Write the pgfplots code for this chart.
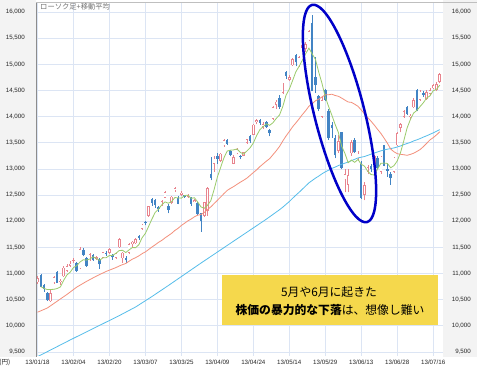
\documentclass[border=0pt]{standalone}
\usepackage{pgfplots}
\usepackage{pgfplotstable}
\pgfplotsset{compat=1.18}
\usepackage{fontspec}
\setmainfont{Liberation Sans}
\newfontfamily\cjk{Noto Sans CJK JP}
\definecolor{gridc}{HTML}{DCE5F4}
\definecolor{panel}{HTML}{F3F3F3}
\definecolor{upc}{HTML}{E8848E}
\definecolor{dnc}{HTML}{4284C4}
\definecolor{maA}{HTML}{9BCB6B}
\definecolor{maB}{HTML}{F3907C}
\definecolor{maC}{HTML}{55BDEA}
\definecolor{boxc}{HTML}{F5D84C}
\definecolor{ellc}{HTML}{0000C8}
\begin{document}
\pgfplotstableread{
i o h l c
0 10830 10950 10800 10913
4 10470 10690 10460 10620
5 10830 10960 10800 10926
7 10840 10900 10780 10866
8 10950 11150 10930 11113
9 11050 11180 11030 11138
10 11150 11230 11120 11191
11 11240 11300 11200 11260
13 11100 11500 11090 11463
16 11250 11400 11240 11369
18 11280 11340 11260 11307
20 11300 11420 11290 11407
22 11400 11480 11380 11468
24 11300 11400 11280 11385
25 11500 11680 11490 11662
26 11290 11420 11200 11398
28 11400 11580 11380 11559
29 11560 11620 11500 11606
30 11580 11680 11570 11652
32 11850 11950 11840 11932
34 12100 12300 12090 12283
38 12320 12400 12300 12381
39 12450 12580 12440 12560
41 12350 12480 12320 12468
42 12600 12650 12560 12635
44 12500 12580 12480 12546
46 12470 12520 12450 12493
48 12370 12420 12360 12397
51 12100 12370 12080 12362
52 12200 12650 12100 12634
54 13100 13250 12950 13192
56 13150 13300 13130 13288
57 13450 13570 13420 13549
60 13100 13260 13090 13221
61 13300 13400 13280 13382
63 13250 13330 13240 13316
64 13500 13580 13480 13568
66 13650 13860 13640 13843
67 13900 13950 13850 13926
69 13800 13900 13760 13860
72 13960 14200 13940 14180
73 14220 14320 14150 14285
75 14450 14650 14430 14607
77 14700 14800 14680 14758
78 14980 15120 14960 15096
80 14980 15160 14950 15138
81 15310 15400 15300 15360
82 15300 15420 15240 15381
83 15460 15650 15440 15627
87 14000 14400 13980 14311
92 13340 13650 13300 13534
94 12800 13000 12550 12904
95 12700 13000 12550 12877
96 13300 13550 13250 13514
98 13200 13350 13150 13289
100 12500 12750 12400 12687
101 12950 13080 12900 13033
103 13100 13260 13050 13245
105 12950 13240 12900 13230
109 12950 13230 12930 13214
110 13450 13700 13440 13677
111 13780 13880 13700 13852
112 13990 14120 13980 14099
114 13990 14050 13930 14018
115 14180 14350 14160 14310
117 14320 14510 14300 14473
119 14330 14500 14320 14472
120 14430 14550 14420 14506
121 14540 14620 14520 14599
122 14500 14660 14480 14615
123 14660 14830 14640 14809
}\up
\pgfplotstableread{
i o h l c
1 10980 11000 10740 10747
2 10780 10800 10650 10709
3 10620 10640 10470 10486
6 11030 11050 10820 10824
12 11200 11220 11030 11046
14 11450 11490 11330 11357
15 11300 11320 11130 11153
17 11350 11370 11240 11251
19 11280 11290 11090 11173
21 11400 11430 11340 11372
23 11350 11380 11260 11309
27 11300 11330 11200 11253
31 11710 11740 11640 11683
33 11990 12000 11920 11968
35 12420 12450 12300 12349
36 12400 12420 12250 12314
37 12280 12300 12180 12239
40 12300 12330 12150 12220
43 12450 12480 12320 12338
45 12500 12510 12450 12471
47 12460 12470 12300 12336
49 12350 12360 12120 12135
50 12150 12160 11800 12003
53 12900 13225 12780 12833
55 13250 13300 13100 13192
58 13560 13580 13460 13485
59 13350 13370 13240 13275
62 13250 13270 13180 13220
65 13620 13650 13500 13529
68 13930 13950 13840 13884
70 13900 13920 13780 13799
71 13740 13760 13620 13694
74 14350 14420 14150 14191
76 14850 14870 14720 14782
79 15180 15190 14960 15038
84 15790 15942 14483 14483
85 14760 15140 14450 14612
86 14400 14420 14100 14143
88 14500 14520 14300 14326
89 14100 14150 13550 13589
90 13840 13900 13600 13775
91 13600 13650 13200 13262
93 13700 13710 12990 13015
97 13550 13600 13300 13318
99 13100 13150 12420 12445
102 13050 13100 12950 13007
104 13200 13250 13000 13015
106 13450 13450 13050 13063
107 13000 13100 12850 12969
108 12900 12950 12700 12834
113 14180 14200 14030 14055
116 14500 14520 14100 14109
118 14450 14480 14380 14417
}\dn
\begin{tikzpicture}
\path[use as bounding box] (0bp,0bp) rectangle (477bp,368bp);
\fill[white] (0bp,0bp) rectangle (477bp,368bp);
\fill[panel] (0bp,11bp) rectangle (36bp,368bp);
\fill[panel] (443bp,11bp) rectangle (477bp,368bp);
\begin{axis}[
  at={(36bp,12bp)}, anchor=south west, scale only axis,
  width=407bp, height=353bp,
  xmin=-0.46, xmax=124, ymin=9423, ymax=16172,
  axis background/.style={fill=white},
  axis line style={draw=none},
  xtick={0,11,22,33,44,55,66,77,88,99,110,121},
  xticklabels={13/01/18,13/02/04,13/02/20,13/03/07,13/03/25,13/04/09,13/04/24,13/05/14,13/05/29,13/06/13,13/06/28,13/07/16},
  ytick={9500,10000,...,16000},
  scaled y ticks=false,
  /pgf/number format/1000 sep={,},
  /pgf/number format/assume math mode=true,
  grid=major, major grid style={draw=gridc, line width=0.7bp},
  major tick length=0pt,
  tick label style={font=\fontsize{6.2bp}{7bp}\selectfont, text=black!85},
  yticklabel style={anchor=east, inner sep=0pt, xshift=-11bp},
  xticklabel style={anchor=center, inner sep=0pt, yshift=-6bp},
]
% wicks
\addplot[draw=none, mark=none, forget plot, error bars/.cd, y dir=plus, y explicit, error mark=none,
  error bar style={draw=upc, line width=0.5bp, solid}]
  table[x=i, y=l, y error expr=\thisrow{h}-\thisrow{l}] {\up};
\addplot[draw=none, mark=none, forget plot, error bars/.cd, y dir=plus, y explicit, error mark=none,
  error bar style={draw=dnc, line width=0.5bp, solid}]
  table[x=i, y=l, y error expr=\thisrow{h}-\thisrow{l}] {\dn};
% bodies
\addplot[draw=none, mark=none, forget plot, error bars/.cd, y dir=plus, y explicit, error mark=none,
  error bar style={draw=upc, line width=2.5bp, solid}]
  table[x=i, y=o, y error expr=\thisrow{c}-\thisrow{o}] {\up};
\addplot[draw=none, mark=none, forget plot, error bars/.cd, y dir=plus, y explicit, error mark=none,
  error bar style={draw=white, line width=1.3bp, solid}]
  table[x=i, y expr=\thisrow{o}+12, y error expr={max(\thisrow{c}-\thisrow{o}-24,0)}] {\up};
\addplot[draw=none, mark=none, forget plot, error bars/.cd, y dir=plus, y explicit, error mark=none,
  error bar style={draw=dnc, line width=2.5bp, solid}]
  table[x=i, y=c, y error expr=\thisrow{o}-\thisrow{c}] {\dn};
% 75-day MA
\addplot[maC, line width=0.8bp, mark=none] coordinates {
(0,9410)(5,9570)(10,9730)(15,9885)(20,10040)(25,10195)(30,10360)(35,10560)(40,10770)(45,10985)
(50,11200)(55,11410)(60,11620)(65,11830)(70,12040)(74,12219)(75,12268)(76,12322)(77,12376)(78,12438)
(79,12497)(80,12553)(81,12613)(82,12673)(83,12734)(84,12778)(85,12824)(86,12862)(87,12906)(88,12944)
(89,12974)(90,13009)(91,13034)(92,13064)(93,13087)(94,13110)(95,13130)(96,13158)(97,13183)(98,13210)
(99,13224)(100,13237)(101,13259)(102,13282)(103,13305)(104,13324)(105,13345)(106,13363)(107,13377)(108,13389)
(109,13401)(110,13419)(111,13439)(112,13464)(113,13486)(114,13506)(115,13534)(116,13555)(117,13580)(118,13608)
(119,13633)(120,13661)(121,13689)(122,13719)(123,13751)};
% 25-day MA
\addplot[maB, line width=0.8bp, mark=none] coordinates {
(0,10260)(3,10340)(6,10470)(9,10600)(12,10740)(15,10850)(18,10950)(21,11040)(24,11114)(25,11144)
(26,11170)(27,11192)(28,11235)(29,11274)(30,11303)(31,11338)(32,11380)(33,11414)(34,11460)(35,11507)
(36,11549)(37,11596)(38,11633)(39,11681)(40,11724)(41,11768)(42,11823)(43,11865)(44,11919)(45,11962)
(46,12007)(47,12042)(48,12085)(49,12115)(50,12129)(51,12167)(52,12223)(53,12274)(54,12337)(55,12399)
(56,12463)(57,12527)(58,12588)(59,12628)(60,12663)(61,12705)(62,12745)(63,12782)(64,12822)(65,12875)
(66,12930)(67,12981)(68,13043)(69,13096)(70,13149)(71,13197)(72,13271)(73,13346)(74,13428)(75,13533)
(76,13629)(77,13714)(78,13805)(79,13879)(80,13957)(81,14039)(82,14113)(83,14198)(84,14247)(85,14302)
(86,14333)(87,14376)(88,14417)(89,14418)(90,14428)(91,14404)(92,14389)(93,14354)(94,14316)(95,14279)
(96,14272)(97,14237)(98,14197)(99,14127)(100,14051)(101,13981)(102,13911)(103,13837)(104,13756)(105,13679)
(106,13587)(107,13491)(108,13379)(109,13328)(110,13291)(111,13279)(112,13271)(113,13260)(114,13277)(115,13299)
(116,13333)(117,13370)(118,13426)(119,13489)(120,13554)(121,13597)(122,13649)(123,13710)};
% 5-day MA
\addplot[maA, line width=0.8bp, mark=none] coordinates {
(1,10750)(2,10716)(3,10693)(4,10695)(5,10698)(6,10713)(7,10744)(8,10870)(9,10973)(10,11026)
(11,11114)(12,11150)(13,11220)(14,11263)(15,11256)(16,11278)(17,11319)(18,11287)(19,11251)(20,11301)
(21,11302)(22,11345)(23,11346)(24,11388)(25,11439)(26,11444)(27,11401)(28,11451)(29,11496)(30,11494)
(31,11551)(32,11686)(33,11768)(34,11904)(35,12043)(36,12169)(37,12231)(38,12313)(39,12369)(40,12343)
(41,12374)(42,12453)(43,12444)(44,12441)(45,12492)(46,12497)(47,12437)(48,12449)(49,12366)(50,12273)
(51,12247)(52,12306)(53,12393)(54,12605)(55,12843)(56,13028)(57,13211)(58,13341)(59,13358)(60,13364)
(61,13382)(62,13317)(63,13283)(64,13341)(65,13403)(66,13495)(67,13636)(68,13750)(69,13808)(70,13862)
(71,13833)(72,13883)(73,13964)(74,14030)(75,14191)(76,14409)(77,14525)(78,14687)(79,14856)(80,14962)
(81,15078)(82,15203)(83,15309)(84,15198)(85,15093)(86,14849)(87,14635)(88,14375)(89,14196)(90,14029)
(91,13853)(92,13697)(93,13435)(94,13298)(95,13118)(96,13169)(97,13126)(98,13180)(99,13089)(100,13051)
(101,12954)(102,12892)(103,12883)(104,12997)(105,13106)(106,13112)(107,13104)(108,13022)(109,13062)(110,13151)
(111,13309)(112,13535)(113,13779)(114,13940)(115,14067)(116,14118)(117,14193)(118,14265)(119,14356)(120,14395)
(121,14493)(122,14522)(123,14600)};
\end{axis}
\begin{axis}[
  at={(36bp,12bp)}, anchor=south west, scale only axis,
  width=407bp, height=353bp,
  xmin=-0.46, xmax=124, ymin=9423, ymax=16172,
  axis y line*=right, axis x line=none,
  axis line style={draw=none},
  ytick={9500,10000,...,16000},
  scaled y ticks=false,
  /pgf/number format/1000 sep={,},
  /pgf/number format/assume math mode=true,
  major tick length=0pt,
  tick label style={font=\fontsize{6.2bp}{7bp}\selectfont, text=black!85},
  yticklabel style={anchor=east, inner sep=0pt, xshift=28bp},
]
\addplot[draw=none, mark=none] coordinates {(0,10000)};
\end{axis}
\draw[black!45, line width=0.8bp] (36bp,11bp) -- (36bp,366bp);
\draw[black!25, line width=0.8bp] (36bp,366bp) -- (477bp,366bp);
\fill[boxc] (222bp,43bp) rectangle (438bp,93bp);
\node[font=\cjk\fontsize{11.8bp}{14bp}\selectfont, inner sep=0pt] at (329bp,76bp) {5月や6月に起きた};
\node[font=\cjk\fontsize{11.8bp}{14bp}\selectfont, inner sep=0pt] at (330bp,58bp) {{\bfseries 株価の暴力的な下落}は、想像し難い};
\node[font=\cjk\fontsize{7.3bp}{9bp}\selectfont, text=black!55, anchor=west, inner sep=0pt] at (40bp,361bp) {ローソク足+移動平均};
\node[font=\cjk\fontsize{6.5bp}{8bp}\selectfont, text=black!85, anchor=east, inner sep=0pt] at (10.5bp,6bp) {(円)};
\draw[ellc, line width=2.5bp, rotate around={14.2:(339.5bp,254.5bp)}] (339.5bp,254.5bp) ellipse [x radius=25bp, y radius=112bp];
\end{tikzpicture}
\end{document}
